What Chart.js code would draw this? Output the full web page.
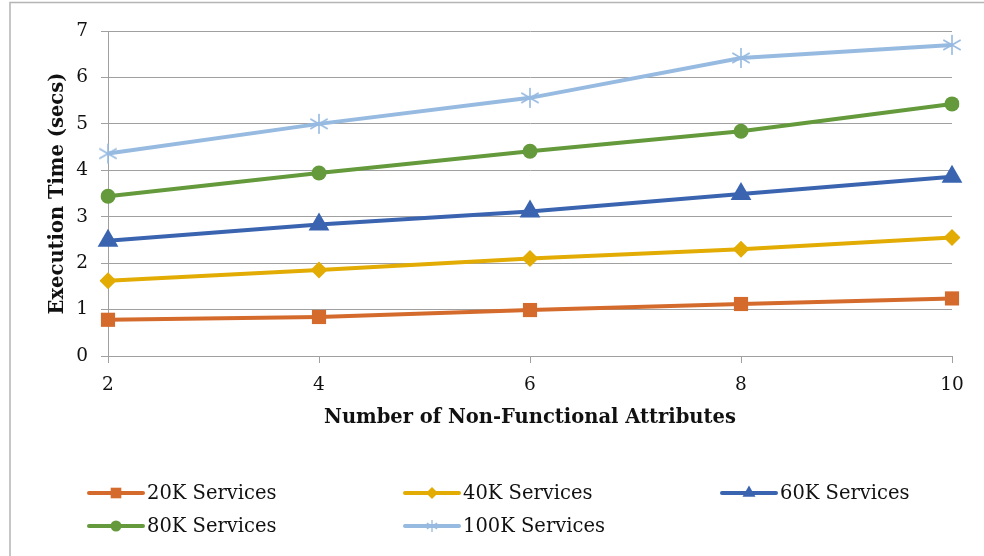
<!DOCTYPE html>
<html>
<head>
<meta charset="utf-8">
<script src="https://cdn.jsdelivr.net/npm/chart.js@4/dist/chart.umd.min.js"></script>
<style>
  html, body { margin: 0; padding: 0; background: #fff; }
  #wrap { width: 984px; height: 556px; position: relative; }
</style>
</head>
<body>
<div id="wrap"><canvas id="c" width="984" height="556"></canvas></div>
<script>
// Number of non-functional attributes on the x axis
const categories = ['2', '4', '6', '8', '10'];

// Execution time in seconds for each service pool size
const services20K  = [0.78, 0.84, 0.99, 1.12, 1.24];
const services40K  = [1.62, 1.85, 2.10, 2.30, 2.55];
const services60K  = [2.48, 2.83, 3.11, 3.49, 3.86];
const services80K  = [3.44, 3.94, 4.41, 4.84, 5.43];
const services100K = [4.36, 5.00, 5.56, 6.42, 6.70];

const seriesNames = ['20K Services', '40K Services', '60K Services', '80K Services', '100K Services'];
const yTicks = [0, 1, 2, 3, 4, 5, 6, 7];

const FONT = '"DejaVu Serif", "Liberation Serif", serif';

// Asterisk marker: an X with a vertical bar through it
function makeStar(size, color, lw) {
  const cv = document.createElement('canvas');
  cv.width = size; cv.height = size;
  const g = cv.getContext('2d');
  const c = size / 2, r = size / 2 - 1;
  g.strokeStyle = color;
  g.lineWidth = lw;
  g.beginPath();
  g.moveTo(c, c - r); g.lineTo(c, c + r);
  const d = r * 0.87;
  g.moveTo(c - d, c - r * 0.5); g.lineTo(c + d, c + r * 0.5);
  g.moveTo(c - d, c + r * 0.5); g.lineTo(c + d, c - r * 0.5);
  g.stroke();
  return cv;
}

const colors = ['#D46B2C', '#E2AC04', '#3A64B0', '#649A3B', '#97BAE1'];
const starBig = makeStar(22, colors[4], 1.6);
const starSmall = makeStar(14, colors[4], 1.3);

const styles = [
  { pointStyle: 'rect',    radius: 10,  legendRadius: 7.5 },
  { pointStyle: 'rectRot', radius: 8.5, legendRadius: 6 },
  { pointStyle: 'triangle',radius: 12,  legendRadius: 7.5 },
  { pointStyle: 'circle',  radius: 7.5, legendRadius: 5.5 },
  { pointStyle: starBig,   radius: 11,  legendRadius: 7, legendStyle: starSmall }
];

const values = [services20K, services40K, services60K, services80K, services100K];

const datasets = values.map((v, i) => ({
  label: seriesNames[i],
  data: v,
  borderColor: colors[i],
  backgroundColor: colors[i],
  borderWidth: 4,
  tension: 0,
  pointStyle: styles[i].pointStyle,
  pointRadius: styles[i].radius,
  pointHoverRadius: styles[i].radius,
  pointBorderWidth: 0,
  pointBackgroundColor: colors[i],
  pointBorderColor: colors[i],
  fill: false
}));

// Legend laid out in a fixed grid below the axis title, plus the frame lines
const gridLegend = {
  id: 'gridLegend',
  beforeDraw(chart) {
    const ctx = chart.ctx;
    ctx.save();
    ctx.strokeStyle = '#b4b4b4';
    ctx.lineWidth = 1.5;
    ctx.beginPath();
    ctx.moveTo(10, 556); ctx.lineTo(10, 2.5); ctx.lineTo(984, 2.5);
    ctx.stroke();
    ctx.restore();
  },
  afterDraw(chart) {
    const ctx = chart.ctx;
    const cols = [89, 405, 722];
    const rows = [493, 526];
    ctx.save();
    chart.data.datasets.forEach((ds, i) => {
      const x = cols[i % 3];
      const y = rows[Math.floor(i / 3)];
      const len = 54;
      ctx.strokeStyle = ds.borderColor;
      ctx.lineWidth = 4;
      ctx.lineCap = 'round';
      ctx.beginPath();
      ctx.moveTo(x, y); ctx.lineTo(x + len, y);
      ctx.stroke();
      ctx.fillStyle = ds.backgroundColor;
      ctx.strokeStyle = ds.borderColor;
      Chart.helpers.drawPoint(ctx, {
        pointStyle: styles[i].legendStyle || styles[i].pointStyle,
        radius: styles[i].legendRadius,
        rotation: 0,
        borderWidth: 0
      }, x + len / 2, y);
      ctx.fillStyle = '#111';
      ctx.font = '19.5px ' + FONT;
      ctx.textBaseline = 'middle';
      ctx.textAlign = 'left';
      ctx.fillText(ds.label, x + len + 4, y + 1);
    });
    ctx.restore();
  }
};

new Chart(document.getElementById('c'), {
  type: 'line',
  data: { labels: categories, datasets },
  options: {
    responsive: false,
    animation: false,
    devicePixelRatio: 1,
    layout: { padding: { left: 10, right: 32, top: 31, bottom: 126 } },
    plugins: { legend: { display: false }, tooltip: { enabled: false } },
    scales: {
      x: {
        type: 'category',
        offset: false,
        grid: { display: true, drawOnChartArea: false, drawTicks: true, tickLength: 7, color: '#a0a0a0', lineWidth: 1 },
        border: { display: true, color: '#a0a0a0', width: 1 },
        ticks: { color: '#111', font: { family: FONT, size: 18.5 }, padding: 11, maxRotation: 0, autoSkip: false },
        title: { display: true, text: 'Number of Non-Functional Attributes', color: '#111',
                 font: { family: FONT, size: 19.5, weight: 'bold' }, padding: { top: 0, bottom: 0 } },
        afterFit(scale) { scale.height = 74; }
      },
      y: {
        min: 0, max: 7,
        afterBuildTicks(scale) { scale.ticks = yTicks.map(v => ({ value: v })); },
        grid: { color: '#a0a0a0', lineWidth: 1, drawTicks: true, tickLength: 7 },
        border: { display: true, color: '#a0a0a0', width: 1 },
        ticks: { color: '#111', font: { family: FONT, size: 18.5 }, padding: 13 },
        title: { display: true, text: 'Execution Time (secs)', color: '#111',
                 font: { family: FONT, size: 19.5, weight: 'bold' }, padding: { top: 36, bottom: 0 } },
        afterFit(scale) { scale.width = 98; }
      }
    }
  },
  plugins: [gridLegend]
});
</script>
</body>
</html>
